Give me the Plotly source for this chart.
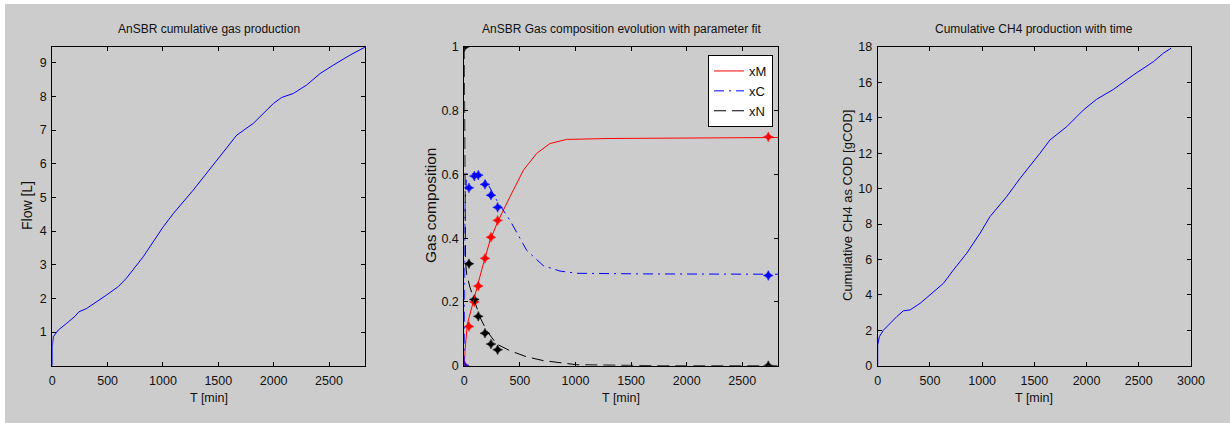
import plotly.graph_objects as go

# ---------------- data ----------------
# Panel 1: cumulative gas production
t_flow = [0, 0, 9, 54, 130, 205, 240, 310, 490, 596, 670, 822, 1003, 1093, 1274, 1425, 1605, 1666,
          1816, 1997, 2072, 2178, 2298, 2419, 2539, 2690, 2828]
flow = [0, 0.56, 0.86, 1.06, 1.26, 1.47, 1.6, 1.7, 2.1, 2.35, 2.6, 3.24, 4.13, 4.52, 5.22, 5.86, 6.6, 6.85,
        7.2, 7.79, 7.97, 8.09, 8.34, 8.68, 8.93, 9.23, 9.47]

# Panel 2: gas composition model curves
t_xM = [0, 6, 27, 66, 111, 156, 231, 306, 411, 531, 650, 770, 920, 1310, 2824]
xM = [0, 0.047, 0.13, 0.183, 0.236, 0.3, 0.393, 0.456, 0.53, 0.613, 0.666, 0.697, 0.71, 0.713, 0.716]
t_xC = [0, 3, 6, 21, 111, 201, 291, 411, 561, 710, 860, 1010, 1610, 2824]
xC = [0, 0.3, 0.5, 0.603, 0.603, 0.577, 0.519, 0.456, 0.362, 0.314, 0.297, 0.29, 0.288, 0.287]
t_xN = [0, 2, 5, 10, 21, 51, 96, 141, 201, 291, 411, 560, 710, 1010, 1760, 2824]
xN = [1.0, 0.7, 0.45, 0.33, 0.288, 0.246, 0.199, 0.152, 0.11, 0.068, 0.047, 0.028, 0.016, 0.003, 0, 0]

# Panel 2: measured points
t_meas = [0, 42, 90, 126, 186, 240, 300, 2734]
xM_meas = [0, 0.123, 0.2, 0.25, 0.337, 0.403, 0.456, 0.718]
xC_meas = [0, 0.558, 0.595, 0.598, 0.569, 0.535, 0.497, 0.283]
xN_meas = [1.0, 0.32, 0.208, 0.155, 0.102, 0.068, 0.05, 0.0]

# Panel 3: cumulative CH4 as COD
t_ch4 = [0, 0, 16, 54, 182, 246, 310, 405, 501, 629, 724, 852, 980, 1075, 1235, 1363, 1554, 1650,
         1810, 1969, 2097, 2256, 2448, 2640, 2735, 2809]
ch4 = [0, 1.17, 1.64, 2.0, 2.77, 3.1, 3.15, 3.52, 4.0, 4.65, 5.4, 6.35, 7.48, 8.42, 9.55, 10.58, 12.0, 12.75,
       13.5, 14.44, 15.05, 15.6, 16.42, 17.17, 17.65, 17.93]

titles = ["AnSBR cumulative gas production",
          "AnSBR Gas composition evolution with parameter fit",
          "Cumulative CH4 production with time"]
ylabels = ["Flow [L]", "Gas composition", "Cumulative CH4 as COD [gCOD]"]
xlabel = "T [min]"

# ---------------- layout geometry (pixels) ----------------
W, H = 1230, 423
px_x = [(52.3, 365.3), (464.3, 778.3), (877.7, 1191.0)]
py_top, py_bot = 47.0, 365.7

FONT = "Liberation Sans, Arial, sans-serif"
TXT = "#111111"

fig = go.Figure()

# Panel 1
fig.add_trace(go.Scatter(x=t_flow, y=flow, mode="lines", line=dict(color="#0000ff", width=1),
                         showlegend=False, xaxis="x", yaxis="y"))

# Panel 2
def meas_marker(c):
    return dict(symbol="star-diamond", size=7, color=c, line=dict(color=c, width=0.5))

fig.add_trace(go.Scatter(x=t_meas, y=xM_meas, mode="markers", marker=meas_marker("#ff0000"),
                         showlegend=False, xaxis="x2", yaxis="y2"))
fig.add_trace(go.Scatter(x=t_meas, y=xC_meas, mode="markers", marker=meas_marker("#0000ff"),
                         showlegend=False, xaxis="x2", yaxis="y2"))
fig.add_trace(go.Scatter(x=t_meas, y=xN_meas, mode="markers", marker=meas_marker("#000000"),
                         showlegend=False, xaxis="x2", yaxis="y2"))
fig.add_trace(go.Scatter(x=t_xM, y=xM, mode="lines", name="xM",
                         line=dict(color="#ff0000", width=1), xaxis="x2", yaxis="y2"))
fig.add_trace(go.Scatter(x=t_xC, y=xC, mode="lines", name="xC",
                         line=dict(color="#0000ff", width=1, dash="10px,5px,2px,5px"), xaxis="x2", yaxis="y2"))
fig.add_trace(go.Scatter(x=t_xN, y=xN, mode="lines", name="xN",
                         line=dict(color="#000000", width=1, dash="12px,6px"), xaxis="x2", yaxis="y2"))

# Panel 3
fig.add_trace(go.Scatter(x=t_ch4, y=ch4, mode="lines", line=dict(color="#0000ff", width=1),
                         showlegend=False, xaxis="x3", yaxis="y3"))

ydom = [(H - py_bot) / H, (H - py_top) / H]

def axis_common():
    return dict(showline=True, linecolor="#000000", linewidth=1, mirror="ticks",
                ticks="inside", ticklen=4, tickcolor="#000000", showgrid=False, zeroline=False,
                automargin=False, tickfont=dict(family=FONT, size=12.5, color=TXT))

xranges = [[0, 2828], [0, 2824], [0, 3000]]
xticks = [[0, 500, 1000, 1500, 2000, 2500], [0, 500, 1000, 1500, 2000, 2500],
          [0, 500, 1000, 1500, 2000, 2500, 3000]]
yranges = [[0, 9.47], [0, 1], [0, 18]]
yticks = [[1, 2, 3, 4, 5, 6, 7, 8, 9], [0, 0.2, 0.4, 0.6, 0.8, 1], list(range(0, 19, 2))]

layout = dict(
    template="none",
    width=W, height=H, margin=dict(l=0, r=0, t=0, b=0, autoexpand=False),
    paper_bgcolor="#ffffff", plot_bgcolor="#ffffff",
    showlegend=True,
    legend=dict(x=773 / W, xanchor="right", y=(H - 55) / H, yanchor="top",
                bgcolor="#ffffff", bordercolor="#000000", borderwidth=1,
                font=dict(family=FONT, size=13, color=TXT), tracegroupgap=0,
                itemwidth=30),
)
for i in range(3):
    sx = "" if i == 0 else str(i + 1)
    xa = axis_common()
    xa.update(domain=[px_x[i][0] / W, px_x[i][1] / W], range=xranges[i], tickvals=xticks[i],
              anchor="y" + sx, ticklabelstandoff=3)
    ya = axis_common()
    ya.update(domain=ydom, range=yranges[i], tickvals=yticks[i], anchor="x" + sx, ticklabelstandoff=2)
    layout["xaxis" + sx] = xa
    layout["yaxis" + sx] = ya

annotations = []
ylab_x = [27, 430, 847]
ylab_size = [14, 15.5, 13]
for i in range(3):
    cx = (px_x[i][0] + px_x[i][1]) / 2 / W
    annotations.append(dict(text=titles[i], x=cx, y=(H - 29) / H, xref="paper", yref="paper",
                            xanchor="center", yanchor="middle", showarrow=False,
                            font=dict(family=FONT, size=12, color=TXT)))
    annotations.append(dict(text=xlabel, x=cx, y=(H - 398) / H, xref="paper", yref="paper",
                            xanchor="center", yanchor="middle", showarrow=False,
                            font=dict(family=FONT, size=12.5, color=TXT)))
    annotations.append(dict(text=ylabels[i], x=ylab_x[i] / W, y=(H - 206) / H, xref="paper", yref="paper",
                            xanchor="center", yanchor="middle", showarrow=False, textangle=-90,
                            font=dict(family=FONT, size=ylab_size[i], color=TXT)))
layout["annotations"] = annotations

# gray figure background with thin white border on top/left
layout["shapes"] = [dict(type="rect", xref="paper", yref="paper", x0=5 / W, x1=1.0, y0=0, y1=(H - 4) / H,
                         fillcolor="#cccccc", line=dict(width=0), layer="below")]

fig.update_layout(**layout)
fig.write_html("out.html")
